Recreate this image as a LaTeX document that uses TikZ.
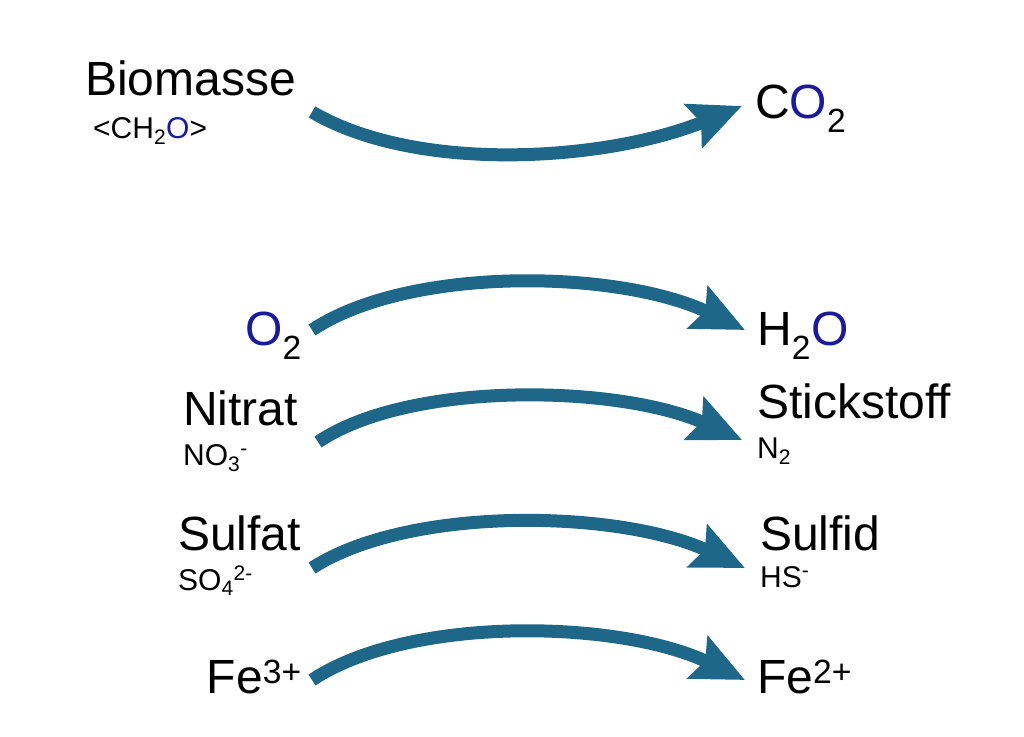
\documentclass[tikz,border=0pt]{standalone}
\usepackage{fontspec}
\setmainfont{Liberation Sans}
\usetikzlibrary{arrows.meta}
\definecolor{arr}{HTML}{1E6788}
\definecolor{oblue}{HTML}{1A1A9A}
\tikzset{
  big/.style={font=\fontsize{48}{52}\selectfont, inner sep=0pt, anchor=base west},
  small/.style={font=\fontsize{30}{34}\selectfont, inner sep=0pt, anchor=base west},
  flow/.style={line width=13pt, color=arr, -{Stealth[length=52pt 0, width=46pt 0, inset=8pt 0]}}
}
\newcommand{\Ox}{\textcolor{oblue}{O}}
\begin{document}
\begin{tikzpicture}[x=1pt,y=-1pt]
\useasboundingbox (0,0) rectangle (1024,736);
\node[big] (bio) at (85,95) {Biomasse};
\node[small] (ch) at (93,138) {<CH\textsubscript{2}\Ox>};
\node[big] (co) at (755,118) {C\Ox\textsubscript{2}};
\node[big, anchor=base east] (o2) at (302,345) {\Ox\textsubscript{2}};
\node[big] (h2o) at (757,345) {H\textsubscript{2}\Ox};
\node[big] (nit) at (183,425) {Nitrat};
\node[small] (no3) at (183,465) {NO\textsubscript{3}\textsuperscript{-}};
\node[big] (sti) at (757,418) {Stickstoff};
\node[small] (n2) at (757,458) {N\textsubscript{2}};
\node[big] (sfa) at (178,550) {Sulfat};
\node[small] (so4) at (178,590) {SO\textsubscript{4}\textsuperscript{2-}};
\node[big] (sfi) at (760,550) {Sulfid};
\node[small] (hs) at (760,587) {HS\textsuperscript{-}};
\node[big, anchor=base east] (fe3) at (302,693) {Fe\textsuperscript{3+}};
\node[big] (fe2) at (757,693) {Fe\textsuperscript{2+}};
\coordinate (a1) at (312,112); \coordinate (b1) at (742,106);
\draw[flow] (a1) .. controls (420,175) and (610,160) .. (b1);
\coordinate (a2) at (312,330); \coordinate (b2) at (745,330);
\draw[flow] (a2) .. controls (410,265) and (620,270) .. (b2);
\coordinate (a3) at (318,442); \coordinate (b3) at (742,440);
\draw[flow] (a3) .. controls (410,380) and (620,385) .. (b3);
\coordinate (a4) at (312,568); \coordinate (b4) at (745,568);
\draw[flow] (a4) .. controls (410,505) and (620,510) .. (b4);
\coordinate (a5) at (312,680); \coordinate (b5) at (745,680);
\draw[flow] (a5) .. controls (410,615) and (620,620) .. (b5);
\end{tikzpicture}
\end{document}
